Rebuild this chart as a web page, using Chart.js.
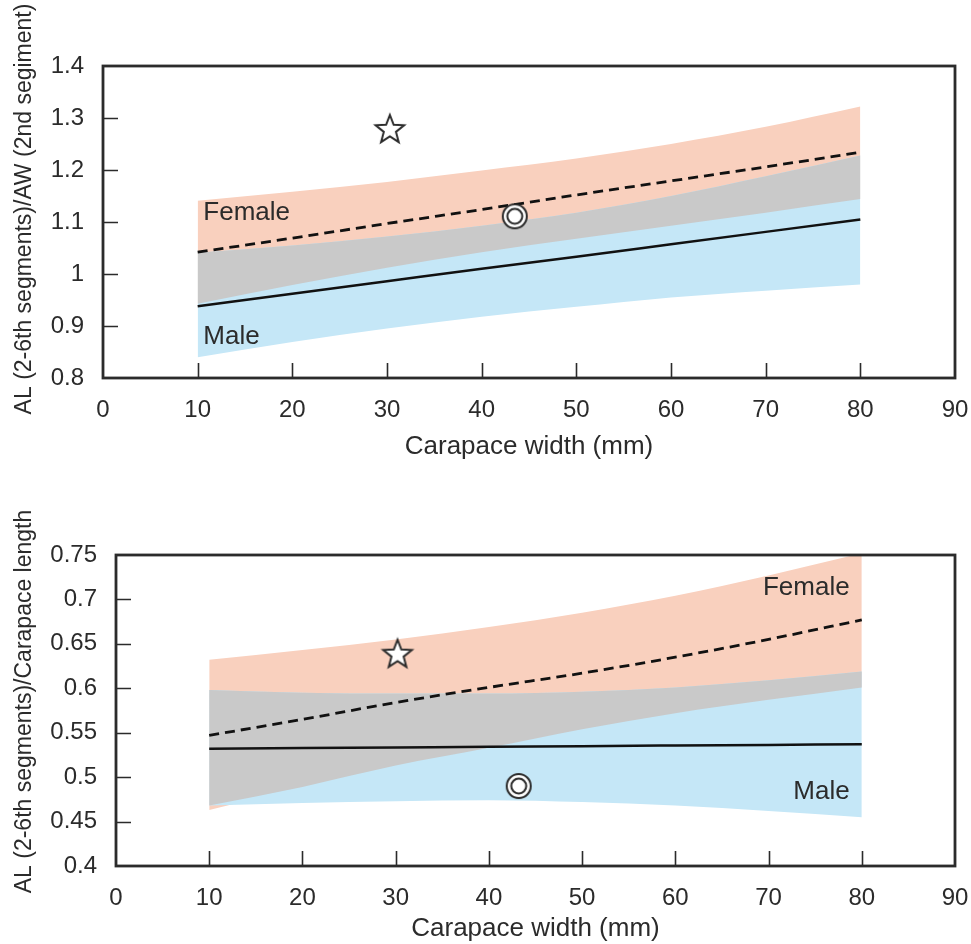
<!DOCTYPE html>
<html>
<head>
<meta charset="utf-8">
<script src="https://cdn.jsdelivr.net/npm/chart.js@4.4.1/dist/chart.umd.min.js"></script>
<style>
  body { margin: 0; background: #fff; }
  .wrap { position: absolute; left: 0; width: 971px; }
</style>
</head>
<body>
<div class="wrap" style="top:0px"><canvas id="chartTop" width="971" height="462"></canvas></div>
<div class="wrap" style="top:480px"><canvas id="chartBottom" width="971" height="464"></canvas></div>
<script>
// carapace width (mm) where the fits are evaluated
const widths = [10, 20, 30, 40, 50, 60, 70, 80];
const xTicks = [0, 10, 20, 30, 40, 50, 60, 70, 80, 90];

// upper chart: AL / AW
const topFemaleUpper = [1.141, 1.158, 1.177, 1.199, 1.222, 1.250, 1.283, 1.322];
const topFemaleLower = [0.943, 0.979, 1.012, 1.042, 1.068, 1.093, 1.118, 1.144];
const topMaleUpper   = [1.041, 1.055, 1.072, 1.093, 1.118, 1.150, 1.188, 1.228];
const topMaleLower   = [0.840, 0.869, 0.895, 0.918, 0.937, 0.955, 0.968, 0.980];
const topFemaleFit   = [1.042, 1.069, 1.097, 1.124, 1.152, 1.179, 1.206, 1.234];
const topMaleFit     = [0.938, 0.962, 0.986, 1.010, 1.033, 1.057, 1.081, 1.105];
const topStar   = [{ x: 30.3, y: 1.279 }];
const topCircle = [{ x: 43.5, y: 1.111 }];
const yTicksTop = [0.8, 0.9, 1, 1.1, 1.2, 1.3, 1.4];

// lower chart: AL / carapace length
const botFemaleUpper = [0.632, 0.643, 0.655, 0.669, 0.685, 0.704, 0.727, 0.752];
const botFemaleLower = [0.463, 0.489, 0.513, 0.533, 0.554, 0.572, 0.587, 0.601];
const botMaleUpper   = [0.598, 0.595, 0.594, 0.594, 0.596, 0.601, 0.609, 0.619];
const botMaleLower   = [0.468, 0.471, 0.473, 0.474, 0.472, 0.468, 0.462, 0.455];
const botFemaleFit   = [0.547, 0.565, 0.584, 0.601, 0.617, 0.635, 0.655, 0.677];
const botMaleFit     = [0.5320, 0.5327, 0.5334, 0.5341, 0.5349, 0.5356, 0.5363, 0.5370];
const botStar   = [{ x: 30.2, y: 0.639 }];
const botCircle = [{ x: 43.2, y: 0.490 }];
const yTicksBot = [0.4, 0.45, 0.5, 0.55, 0.6, 0.65, 0.7, 0.75];

const FONT = "'Liberation Sans', Arial, Helvetica, sans-serif";
const INK = '#2b2b2b';
const ORANGE = '#f9d0be';
const BLUE = '#c5e7f7';
const GREY = '#c9c9c9';

function pts(arr) {
    return widths.map((w, i) => ({ x: w, y: arr[i] }));
}

// star marker
function starImage() {
    const c = document.createElement('canvas');
    c.width = 36; c.height = 36;
    const g = c.getContext('2d');
    g.beginPath();
    for (let i = 0; i < 10; i++) {
        const r = i % 2 === 0 ? 15 : 6.4;
        const a = -Math.PI / 2 + i * Math.PI / 5;
        const px = 18 + r * Math.cos(a), py = 19 + r * Math.sin(a);
        if (i === 0) g.moveTo(px, py); else g.lineTo(px, py);
    }
    g.closePath();
    g.fillStyle = '#fff';
    g.fill();
    g.strokeStyle = INK;
    g.lineJoin = 'miter';
    g.lineWidth = 2;
    g.stroke();
    return c;
}

// double circle marker
function ringImage() {
    const c = document.createElement('canvas');
    c.width = 30; c.height = 30;
    const g = c.getContext('2d');
    g.strokeStyle = INK;
    g.lineWidth = 2;
    g.fillStyle = '#fff';
    g.beginPath(); g.arc(15, 15, 12, 0, Math.PI * 2); g.fill(); g.stroke();
    g.beginPath(); g.arc(15, 15, 7.5, 0, Math.PI * 2); g.stroke();
    return c;
}

// box, inward ticks, y title and the Female/Male notes
const frameTicks = {
    id: 'frameTicks',
    afterDatasetsDraw(chart, args, opts) {
        const { ctx, chartArea: a, scales: { x, y } } = chart;
        ctx.save();
        ctx.strokeStyle = INK;
        ctx.lineWidth = 1.6;
        ctx.beginPath();
        x.ticks.forEach(t => {
            if (t.value > x.min + 1e-6 && t.value < x.max - 1e-6) {
                const px = Math.round(x.getPixelForValue(t.value)) + 0.5;
                ctx.moveTo(px, a.bottom);
                ctx.lineTo(px, a.bottom - 15);
            }
        });
        y.ticks.forEach(t => {
            if (t.value > y.min + 1e-6 && t.value < y.max - 1e-6) {
                const py = Math.round(y.getPixelForValue(t.value)) + 0.5;
                ctx.moveTo(a.left, py);
                ctx.lineTo(a.left + 15, py);
            }
        });
        ctx.stroke();
        ctx.lineWidth = 2.8;
        ctx.strokeRect(a.left, a.top, a.right - a.left, a.bottom - a.top);

        ctx.fillStyle = INK;
        ctx.textBaseline = 'middle';
        ctx.font = '26px ' + FONT;
        (opts.notes || []).forEach(n => {
            ctx.textAlign = n.align;
            ctx.fillText(n.text, x.getPixelForValue(n.x), y.getPixelForValue(n.y));
        });

        // y title sits a little above the middle of the axis in the original
        ctx.font = '23px ' + FONT;
        ctx.textAlign = 'center';
        ctx.translate(25, (a.top + a.bottom) / 2 - opts.titleShift);
        ctx.rotate(-Math.PI / 2);
        ctx.fillText(opts.yTitle, 0, 0);
        ctx.restore();
    }
};

function createChart(id, d) {
    const ctx = document.getElementById(id).getContext('2d');
    const overlapUpper = d.femaleUpper.map((v, i) => Math.min(v, d.maleUpper[i]));
    const overlapLower = d.femaleLower.map((v, i) => Math.max(v, d.maleLower[i]));
    const band = { borderWidth: 0, pointRadius: 0, cubicInterpolationMode: 'monotone' };

    return new Chart(ctx, {
        type: 'line',
        data: {
            datasets: [
                { ...band, label: 'Female CI', data: pts(d.femaleUpper), fill: '+1', backgroundColor: ORANGE, order: 10 },
                { ...band, label: 'Female CI low', data: pts(d.femaleLower), fill: false, order: 10 },
                { ...band, label: 'Male CI', data: pts(d.maleUpper), fill: '+1', backgroundColor: BLUE, order: 9 },
                { ...band, label: 'Male CI low', data: pts(d.maleLower), fill: false, order: 9 },
                { ...band, label: 'Overlap', data: pts(overlapUpper), fill: '+1', backgroundColor: GREY, order: 8 },
                { ...band, label: 'Overlap low', data: pts(overlapLower), fill: false, order: 8 },
                { label: 'Female', data: pts(d.femaleFit), borderColor: '#111', borderWidth: 2.8, borderDash: [10, 6], pointRadius: 0, fill: false, cubicInterpolationMode: 'monotone', order: 3 },
                { label: 'Male', data: pts(d.maleFit), borderColor: '#111', borderWidth: 2.5, pointRadius: 0, fill: false, cubicInterpolationMode: 'monotone', order: 2 },
                { label: 'Star', data: d.star, showLine: false, pointStyle: starImage(), pointRadius: 15, order: 1 },
                { label: 'Circle', data: d.circle, showLine: false, pointStyle: ringImage(), pointRadius: 13, order: 1 }
            ]
        },
        options: {
            responsive: false,
            animation: false,
            layout: { padding: d.padding },
            plugins: {
                legend: { display: false },
                tooltip: { enabled: false },
                frameTicks: { notes: d.notes, yTitle: d.yTitle, titleShift: d.titleShift }
            },
            scales: {
                x: {
                    type: 'linear',
                    min: 0, max: 90,
                    afterBuildTicks: s => { s.ticks = xTicks.map(v => ({ value: v })); },
                    afterFit: s => { s.height = d.xHeight; s.paddingLeft = 0; s.paddingRight = 0; },
                    grid: { display: false, drawTicks: false },
                    border: { display: false },
                    ticks: { color: INK, padding: 18, font: { family: FONT, size: 24 } },
                    title: { display: true, text: 'Carapace width (mm)', color: INK, padding: { top: 0, bottom: 0 }, font: { family: FONT, size: 26 } }
                },
                y: {
                    type: 'linear',
                    min: d.yTicks[0], max: d.yTicks[d.yTicks.length - 1],
                    afterBuildTicks: s => { s.ticks = d.yTicks.map(v => ({ value: v })); },
                    afterFit: s => { s.width = d.yWidth; s.paddingTop = 0; s.paddingBottom = 0; },
                    grid: { display: false, drawTicks: false },
                    border: { display: false },
                    ticks: { color: INK, padding: 19, font: { family: FONT, size: 24 }, callback: v => String(+v.toFixed(2)) },
                    title: { display: false }
                }
            }
        },
        plugins: [frameTicks]
    });
}

createChart('chartTop', {
    femaleUpper: topFemaleUpper, femaleLower: topFemaleLower,
    maleUpper: topMaleUpper, maleLower: topMaleLower,
    femaleFit: topFemaleFit, maleFit: topMaleFit,
    star: topStar, circle: topCircle,
    yTicks: yTicksTop,
    yTitle: 'AL (2-6th segments)/AW (2nd segiment)',
    titleShift: 13,
    padding: { left: 0, top: 66, right: 13, bottom: 0 },
    yWidth: 103, xHeight: 84,
    notes: [
        { text: 'Female', x: 10.6, y: 1.117, align: 'left' },
        { text: 'Male', x: 10.6, y: 0.880, align: 'left' }
    ]
});

createChart('chartBottom', {
    femaleUpper: botFemaleUpper, femaleLower: botFemaleLower,
    maleUpper: botMaleUpper, maleLower: botMaleLower,
    femaleFit: botFemaleFit, maleFit: botMaleFit,
    star: botStar, circle: botCircle,
    yTicks: yTicksBot,
    yTitle: 'AL (2-6th segments)/Carapace length',
    titleShift: 9,
    padding: { left: 0, top: 75, right: 13, bottom: 0 },
    yWidth: 116, xHeight: 78,
    notes: [
        { text: 'Female', x: 78.7, y: 0.7135, align: 'right' },
        { text: 'Male', x: 78.7, y: 0.4838, align: 'right' }
    ]
});
</script>
</body>
</html>
